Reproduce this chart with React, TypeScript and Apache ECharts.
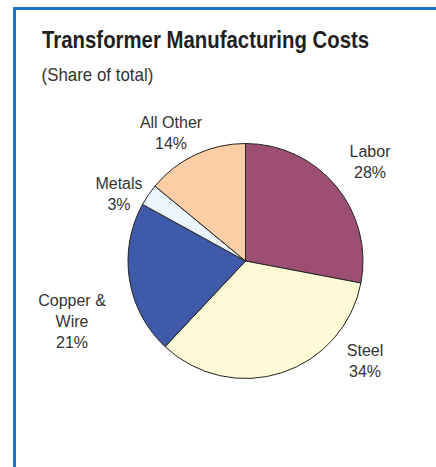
import React, { useEffect, useRef } from "react";
import * as echarts from "echarts";

const TITLE = "Transformer Manufacturing Costs";
const SUBTITLE = "(Share of total)";
const categories = ["Labor", "Steel", "Copper &\nWire", "Metals", "All Other"];
const shares = [28, 34, 21, 3, 14];
const colors = ["#9d4f73", "#fffad5", "#3f5aa8", "#eaf5fc", "#fdcea5"];
// label block centre, relative to the pie centre (px)
const labelOffsets: [number, number][] = [
  [124.5, -99.5],
  [119.5, 100],
  [-173.5, 60],
  [-126.5, -67],
  [-74.5, -128],
];

const CX = 245.5;
const CY = 261;
const R = 117.5;

export default function App() {
  const ref = useRef<HTMLDivElement>(null);
  useEffect(() => {
    if (!ref.current) return;
    const chart = echarts.init(ref.current, undefined, { renderer: "svg" });
    chart.setOption({
      animation: false,
      backgroundColor: "#ffffff",
      graphic: [
        {
          type: "text",
          x: 42,
          y: 40.5,
          scaleX: 0.886,
          silent: true,
          style: {
            text: TITLE,
            fontFamily: "'Liberation Sans', Arial, sans-serif",
            fontWeight: "bold",
            fontSize: 23,
            fill: "#1f1f1f",
            verticalAlign: "middle",
            align: "left",
          },
        },
        {
          type: "text",
          x: 41.5,
          y: 74.5,
          scaleX: 0.94,
          silent: true,
          style: {
            text: SUBTITLE,
            fontFamily: "'Liberation Sans', Arial, sans-serif",
            fontSize: 18,
            fill: "#333333",
            verticalAlign: "middle",
            align: "left",
          },
        },
      ],
      series: [
        {
          type: "pie",
          center: [CX, CY],
          radius: R,
          startAngle: 90,
          clockwise: true,
          avoidLabelOverlap: false,
          silent: true,
          data: categories.map((name, i) => ({
            name,
            value: shares[i],
            itemStyle: { color: colors[i] },
          })),
          itemStyle: { borderColor: "#222222", borderWidth: 1 },
          label: {
            show: true,
            position: "outside",
            formatter: "{b}\n{c}%",
            fontFamily: "'Liberation Sans', Arial, sans-serif",
            fontSize: 16,
            lineHeight: 21,
            color: "#333333",
            align: "center",
          },
          labelLine: { show: false },
          labelLayout: (params: any) => {
            const off = labelOffsets[params.dataIndex];
            return {
              x: CX + off[0],
              y: CY + off[1],
              align: "center",
              verticalAlign: "middle",
            };
          },
        },
      ],
    });
    return () => chart.dispose();
  }, []);
  return (
    <div style={{ position: "fixed", left: 0, top: 0, width: 436, height: 467, background: "#fff" }}>
      <div ref={ref} style={{ position: "absolute", left: 0, top: 0, width: 436, height: 467 }} />
      <div
        style={{
          position: "absolute",
          left: 13,
          top: 7,
          right: 0,
          bottom: 0,
          borderLeft: "3px solid #1b75c7",
          borderTop: "3px solid #1b75c7",
          pointerEvents: "none",
        }}
      />
    </div>
  );
}
